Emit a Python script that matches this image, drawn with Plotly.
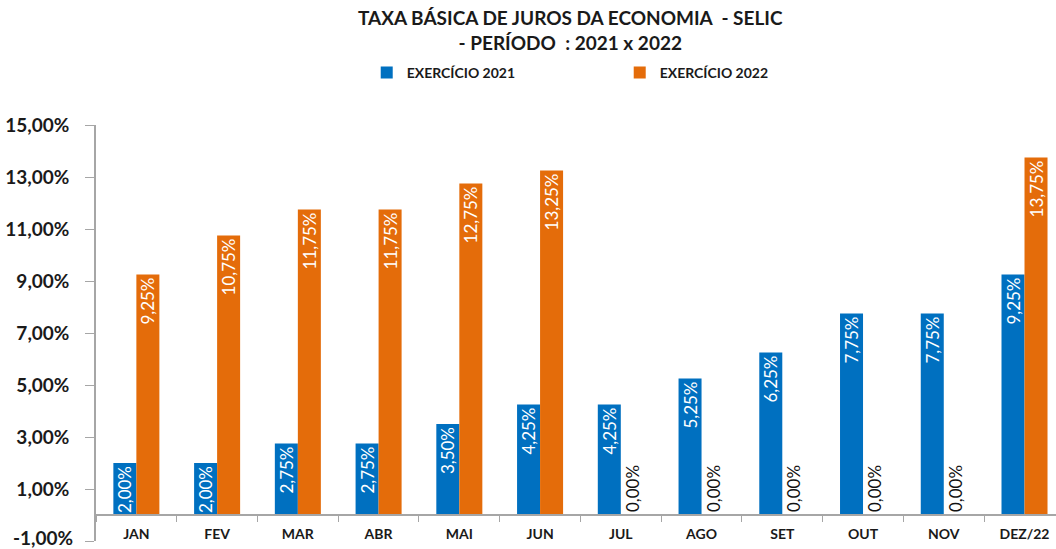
import plotly.graph_objects as go

months = ["JAN", "FEV", "MAR", "ABR", "MAI", "JUN", "JUL", "AGO", "SET", "OUT", "NOV", "DEZ/22"]
selic_2021 = [2.00, 2.00, 2.75, 2.75, 3.50, 4.25, 4.25, 5.25, 6.25, 7.75, 7.75, 9.25]
selic_2022 = [9.25, 10.75, 11.75, 11.75, 12.75, 13.25, 0.00, 0.00, 0.00, 0.00, 0.00, 13.75]
y_ticks = [-1, 1, 3, 5, 7, 9, 11, 13, 15]
y_tick_labels = [f"{v:.2f}%".replace(".", ",") for v in y_ticks]

BLUE = "#0070C0"
ORANGE = "#E46C0A"
FONT = "Lato"
TICKFONT = dict(family=FONT, size=19, color="#1a1a1a", weight="bold")


def positions(vals):
    return ["inside" if v > 0 else "outside" for v in vals]


fig = go.Figure()
for name, vals, col in [("EXERCÍCIO 2021", selic_2021, BLUE), ("EXERCÍCIO 2022", selic_2022, ORANGE)]:
    fig.add_trace(go.Bar(
        x=months, y=vals, name=name,
        marker=dict(color=col, line=dict(width=0)),
        texttemplate="%{y:.2f}%",
        textposition=positions(vals),
        textangle=-90,
        insidetextanchor="end",
        insidetextfont=dict(family=FONT, size=17, color="white"),
        outsidetextfont=dict(family=FONT, size=17, color="#111111"),
        constraintext="none",
        cliponaxis=False,
    ))

# lowest tick label (plotly hides it at the figure edge) drawn as annotation
fig.add_annotation(
    text=y_tick_labels[0], x=0, xref="paper", y=y_ticks[0], yref="y",
    xanchor="right", yanchor="middle", xshift=-21, yshift=4, showarrow=False,
    font=TICKFONT,
)
y_tick_labels_axis = [""] + y_tick_labels[1:]

fig.update_layout(
    width=1056, height=549,
    margin=dict(l=96, r=0, t=125, b=8),
    paper_bgcolor="white", plot_bgcolor="white",
    separators=",.",
    barmode="group", bargap=0.43, bargroupgap=0,
    font=dict(family=FONT, color="#1a1a1a"),
    title=dict(
        text="<b>TAXA BÁSICA DE JUROS DA ECONOMIA  - SELIC<br>- PERÍODO  : 2021 x 2022</b>",
        x=0.540, xanchor="center", xref="container",
        y=1 - 25 / 549, yanchor="middle", yref="container",
        font=dict(family=FONT, size=19, color="#1a1a1a"),
    ),
    legend=dict(
        orientation="h", x=0.282, xanchor="left", y=1.125, yanchor="middle",
        entrywidth=208, entrywidthmode="pixels",
        font=dict(family=FONT, size=14, color="#1a1a1a", weight="bold"),
        bgcolor="rgba(0,0,0,0)",
    ),
    showlegend=True,
)

fig.update_xaxes(
    range=[-0.5, 11.39],
    anchor="free", position=1 / 16,
    showline=True, linecolor="#a6a6a6", linewidth=1.5,
    ticks="outside", tickson="boundaries", ticklen=6, tickcolor="#a6a6a6",
    ticklabelstandoff=6,
    tickfont=dict(family=FONT, size=14, color="#1a1a1a", weight="bold"),
    showgrid=False, zeroline=False,
)
fig.update_yaxes(
    range=[-1.0001, 15.0001],
    tickmode="array", tickvals=y_ticks, ticktext=y_tick_labels_axis,
    showline=True, linecolor="#a6a6a6", linewidth=1.5,
    ticks="outside", ticklen=9, tickcolor="#a6a6a6",
    ticklabelstandoff=12,
    tickfont=TICKFONT,
    showgrid=False, zeroline=False,
    automargin=False,
)

fig.write_html("out.html", config={"displayModeBar": False},
               post_script="document.body.style.margin='0';")
